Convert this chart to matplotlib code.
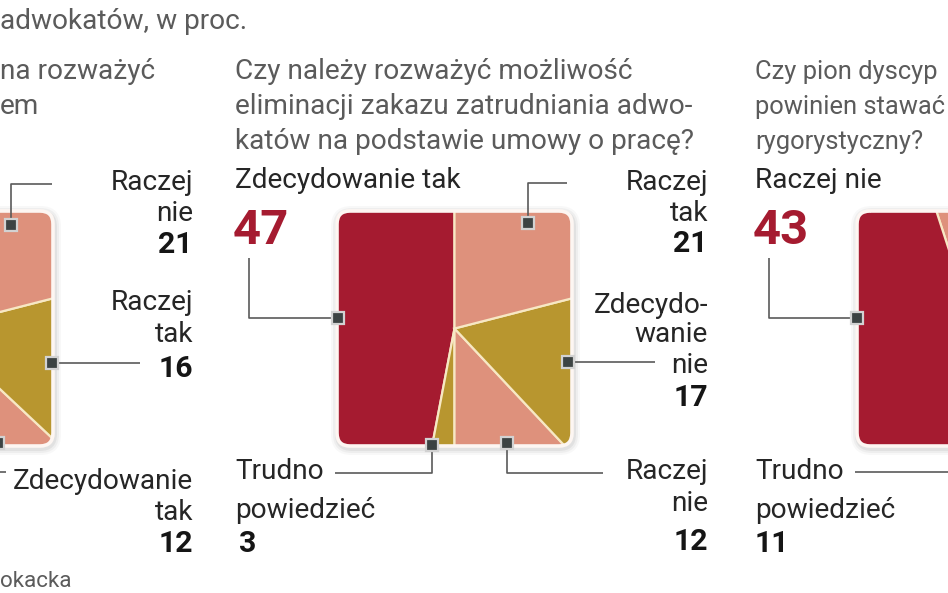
import matplotlib
matplotlib.use("Agg")
import matplotlib.pyplot as plt
from matplotlib.patches import FancyBboxPatch
from matplotlib import font_manager
from matplotlib.textpath import TextPath
from matplotlib.font_manager import FontProperties

# ---------------- data ----------------
# middle chart (complete)
mid_labels = ["Zdecydowanie tak", "Trudno powiedzieć", "Raczej nie", "Zdecydowanie nie", "Raczej tak"]
mid_values = [47, 3, 12, 17, 21]
# left chart (cropped; first slice lies outside the picture)
left_labels = ["(poza kadrem)", "Zdecydowanie tak", "Raczej tak", "Raczej nie"]
left_values = [51, 12, 16, 21]
# right chart (cropped; last slice lies outside the picture)
right_labels = ["(poza kadrem) a", "Raczej nie", "Trudno powiedzieć", "(poza kadrem) b"]
right_values = [5, 43, 11, 41]

RED = "#a51b30"
PINK = "#de917c"
GOLD = "#b8962f"
mid_colors = [RED, GOLD, PINK, GOLD, PINK]
left_colors = [RED, PINK, GOLD, PINK]
right_colors = [PINK, RED, GOLD, PINK]

# ---------------- fonts ----------------
avail = {f.name for f in font_manager.fontManager.ttflist}
FAM = ["Liberation Sans Narrow", "Roboto", "Liberation Sans", "DejaVu Sans"]
FAM = [f for f in FAM if f in avail] + ["DejaVu Sans"]
plt.rcParams["font.family"] = FAM
FP = FontProperties(family=FAM[0])


def width_px(s, size):
    return TextPath((0, 0), s, size=size, prop=FP).get_extents().width * 100 / 72


# scale the text so the reference line width (≈395 px) is met
Q = 20 * 395 / width_px("Czy należy rozważyć możliwość", 20)
L = Q
N = Q * 1.08
BIG = Q * 1.75

W, H = 948, 593
fig = plt.figure(figsize=(W / 100, H / 100), dpi=100)
ax = fig.add_axes([0, 0, 1, 1])
ax.set_axis_off()

GREYTXT = "#5b5b5b"
DARK = "#262626"


def square_pie(cx, cy, values, colors, h=117.5):
    # soft shadow
    for i, a in enumerate([0.05, 0.07, 0.10]):
        pad = 7 - 2 * i
        sh = FancyBboxPatch((cx - h - pad + 1, cy - h - pad + 2), 2 * h + 2 * pad, 2 * h + 2 * pad,
                            boxstyle=f"round,pad=0,rounding_size={14 + pad}",
                            fc="#777777", ec="none", alpha=a, zorder=1)
        ax.add_patch(sh)
    clip = FancyBboxPatch((cx - h, cy - h), 2 * h, 2 * h,
                          boxstyle="round,pad=0,rounding_size=13",
                          fc="white", ec="none", zorder=2)
    ax.add_patch(clip)
    wedges, _ = ax.pie(values, colors=colors, startangle=-90, counterclock=False,
                       radius=200, center=(cx, cy),
                       wedgeprops=dict(edgecolor="#f7e8c4", linewidth=1.6))
    for w in wedges:
        w.set_clip_on(True)
        w.set_clip_path(clip)
        w.set_zorder(3)
    border = FancyBboxPatch((cx - h, cy - h), 2 * h, 2 * h,
                            boxstyle="round,pad=0,rounding_size=13",
                            fc="none", ec="#fdf6f2", lw=2.6, zorder=4)
    ax.add_patch(border)


def marker(x, y):
    ax.plot([x], [y], marker="s", ms=9, mfc="#3c4343", mec="#d2d2d2", mew=1.6, zorder=6)


def leader(xs, ys):
    ax.plot(xs, ys, color="#5a5a5a", lw=1.2, zorder=5, solid_capstyle="butt")


def txt(x, y, s, ha="left", size=None, color=DARK, weight="normal"):
    ax.text(x, y, s, ha=ha, va="baseline", fontsize=size or L, color=color, fontweight=weight,
            zorder=7)


# ---------------- charts ----------------
square_pie(-64.5, 328.5, left_values, left_colors)
square_pie(454.5, 328.5, mid_values, mid_colors)
square_pie(974.5, 328.5, right_values, right_colors)

# top title fragment
txt(0, 29, "adwokatów, w proc.", size=Q, color=GREYTXT)

# left question fragment
txt(0, 79, "na rozważyć", size=Q, color=GREYTXT)
txt(0, 114, "em", size=Q, color=GREYTXT)

# middle question
txt(235, 79, "Czy należy rozważyć możliwość", size=Q, color=GREYTXT)
txt(235, 114, "eliminacji zakazu zatrudniania adwo-", size=Q, color=GREYTXT)
txt(235, 149, "katów na podstawie umowy o pracę?", size=Q, color=GREYTXT)

# right question (the reference crops it at the picture edge)
rq = ["Czy pion dyscyp", "powinien stawać", "rygorystyczny?"]
QR = min(Q, Q * 188 / max(width_px(s, Q) for s in rq))
txt(755, 79, rq[0], size=QR, color=GREYTXT)
txt(755, 114, rq[1], size=QR, color=GREYTXT)
txt(755, 149, rq[2], size=QR, color=GREYTXT)

# ---- left chart labels ----
lx = 193
txt(lx, 190, "Raczej", ha="right")
txt(lx, 221, "nie", ha="right")
txt(lx, 253, str(left_values[3]), ha="right", size=N, weight="bold", color="#151515")
leader([11, 11, 52], [225, 184, 184]); marker(11, 225)

txt(lx, 310, "Raczej", ha="right")
txt(lx, 342, "tak", ha="right")
txt(lx, 377, str(left_values[2]), ha="right", size=N, weight="bold", color="#151515")
leader([52, 140], [363, 363]); marker(52, 363)

txt(lx, 489, "Zdecydowanie", ha="right")
txt(lx, 520, "tak", ha="right")
txt(lx, 552, str(left_values[1]), ha="right", size=N, weight="bold", color="#151515")
leader([-2, -2, 6], [443, 472, 472]); marker(-2, 443)

# ---- middle chart labels ----
txt(235, 188, mid_labels[0])
txt(233, 244, str(mid_values[0]), size=BIG, weight="bold", color=RED)
leader([249, 249, 338], [258, 318, 318]); marker(338, 318)

mx = 708
txt(mx, 190, "Raczej", ha="right")
txt(mx, 221, "tak", ha="right")
txt(mx, 252, str(mid_values[4]), ha="right", size=N, weight="bold", color="#151515")
leader([528, 528, 567], [223, 183, 183]); marker(528, 223)

txt(mx, 313, "Zdecydo-", ha="right")
txt(mx, 342, "wanie", ha="right")
txt(mx, 373, "nie", ha="right")
txt(mx, 406, str(mid_values[3]), ha="right", size=N, weight="bold", color="#151515")
leader([568, 655], [362, 362]); marker(568, 362)

txt(mx, 479, "Raczej", ha="right")
txt(mx, 511, "nie", ha="right")
txt(mx, 550, str(mid_values[2]), ha="right", size=N, weight="bold", color="#151515")
leader([507, 507, 603], [443, 473, 473]); marker(507, 443)

txt(235, 479, "Trudno")
txt(235, 518, "powiedzieć")
txt(239, 552, str(mid_values[1]), size=N, weight="bold", color="#151515")
leader([432, 432, 335], [445, 473, 473]); marker(432, 445)

# ---- right chart labels ----
txt(755, 188, right_labels[1])
txt(753, 244, str(right_values[1]), size=BIG, weight="bold", color=RED)
leader([769, 769, 857], [258, 318, 318]); marker(857, 318)

txt(755, 479, "Trudno")
txt(755, 518, "powiedzieć")
txt(755, 552, str(right_values[2]), size=N, weight="bold", color="#151515")
leader([855, 948], [472, 472])

# source fragment
txt(0, 587, "okacka", size=Q * 0.8, color=GREYTXT)

ax.set_xlim(0, W)
ax.set_ylim(H, 0)
ax.set_aspect("auto")
fig.savefig("out.png", dpi=100, facecolor="white")
